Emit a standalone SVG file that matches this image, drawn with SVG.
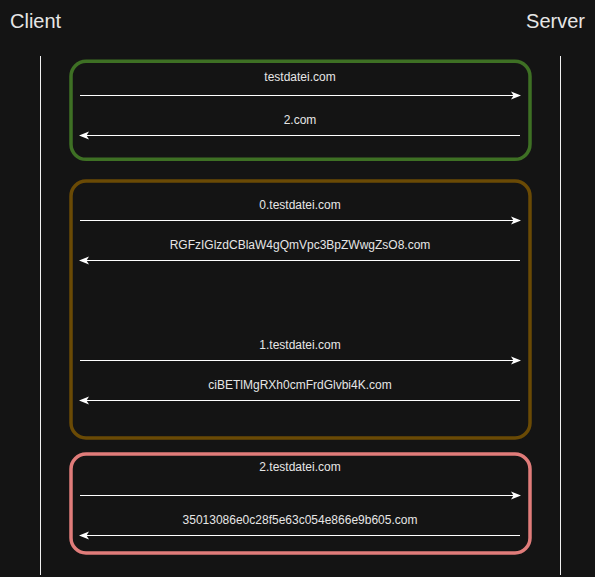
<svg xmlns="http://www.w3.org/2000/svg" width="595" height="577" viewBox="0 0 595 577">
  <style>
    .actor { font-family: "Liberation Sans", Arial, sans-serif; font-size: 20px; fill: #e6e6e6; }
    .msg { font-family: "Liberation Sans", Arial, sans-serif; font-size: 12px; fill: #e6e6e6; text-anchor: middle; }
    .life { stroke: #f0f0f0; stroke-width: 1; fill: none; }
    .frame { fill: none; stroke-width: 3.5; }
    .arrow { stroke: #ffffff; stroke-width: 1; fill: none; }
  </style>
  <defs>
    <marker id="head" viewBox="0 0 10 10" refX="9" refY="5" markerWidth="10" markerHeight="10" markerUnits="userSpaceOnUse" orient="auto-start-reverse">
      <path d="M0,1 L10,5 L0,9 L2.5,5 Z" fill="#ffffff"/>
    </marker>
  </defs>
  <rect width="595" height="577" fill="#141414"/>

  <g id="client">
    <text class="actor" x="10" y="28">Client</text>
    <line class="life" x1="40.5" y1="56" x2="40.5" y2="575"/>
  </g>
  <g id="server">
    <text class="actor" x="585" y="28" text-anchor="end">Server</text>
    <line class="life" x1="560.5" y1="56" x2="560.5" y2="575"/>
  </g>

  <g id="frame-init">
    <rect class="frame" x="71" y="61.3" width="459" height="98" rx="15" stroke="#3e7024"/>
  </g>
  <g id="frame-chunks">
    <rect class="frame" x="71" y="181" width="459" height="257" rx="15" stroke="#6a4a05"/>
  </g>
  <g id="frame-final">
    <rect class="frame" x="71" y="454" width="459" height="99" rx="15" stroke="#e07c7a"/>
  </g>

  <g id="connectors">
    <line class="arrow" x1="80" y1="95.5" x2="520" y2="95.5" marker-end="url(#head)"/>
    <line class="arrow" x1="520" y1="135.5" x2="80" y2="135.5" marker-end="url(#head)"/>
    <line class="arrow" x1="80" y1="220.5" x2="520" y2="220.5" marker-end="url(#head)"/>
    <line class="arrow" x1="520" y1="260.5" x2="80" y2="260.5" marker-end="url(#head)"/>
    <line class="arrow" x1="80" y1="360.5" x2="520" y2="360.5" marker-end="url(#head)"/>
    <line class="arrow" x1="520" y1="400.5" x2="80" y2="400.5" marker-end="url(#head)"/>
    <line class="arrow" x1="80" y1="495.5" x2="520" y2="495.5" marker-end="url(#head)"/>
    <line class="arrow" x1="520" y1="535.5" x2="80" y2="535.5" marker-end="url(#head)"/>
  </g>

  <g id="labels">
    <text class="msg" x="300" y="81">testdatei.com</text>
    <text class="msg" x="300" y="124">2.com</text>
    <text class="msg" x="300" y="209">0.testdatei.com</text>
    <text class="msg" x="300" y="249">RGFzIGlzdCBlaW4gQmVpc3BpZWwgZsO8.com</text>
    <text class="msg" x="300" y="349">1.testdatei.com</text>
    <text class="msg" x="300" y="389">ciBETlMgRXh0cmFrdGlvbi4K.com</text>
    <text class="msg" x="300" y="471">2.testdatei.com</text>
    <text class="msg" x="300" y="524">35013086e0c28f5e63c054e866e9b605.com</text>
  </g>
</svg>
